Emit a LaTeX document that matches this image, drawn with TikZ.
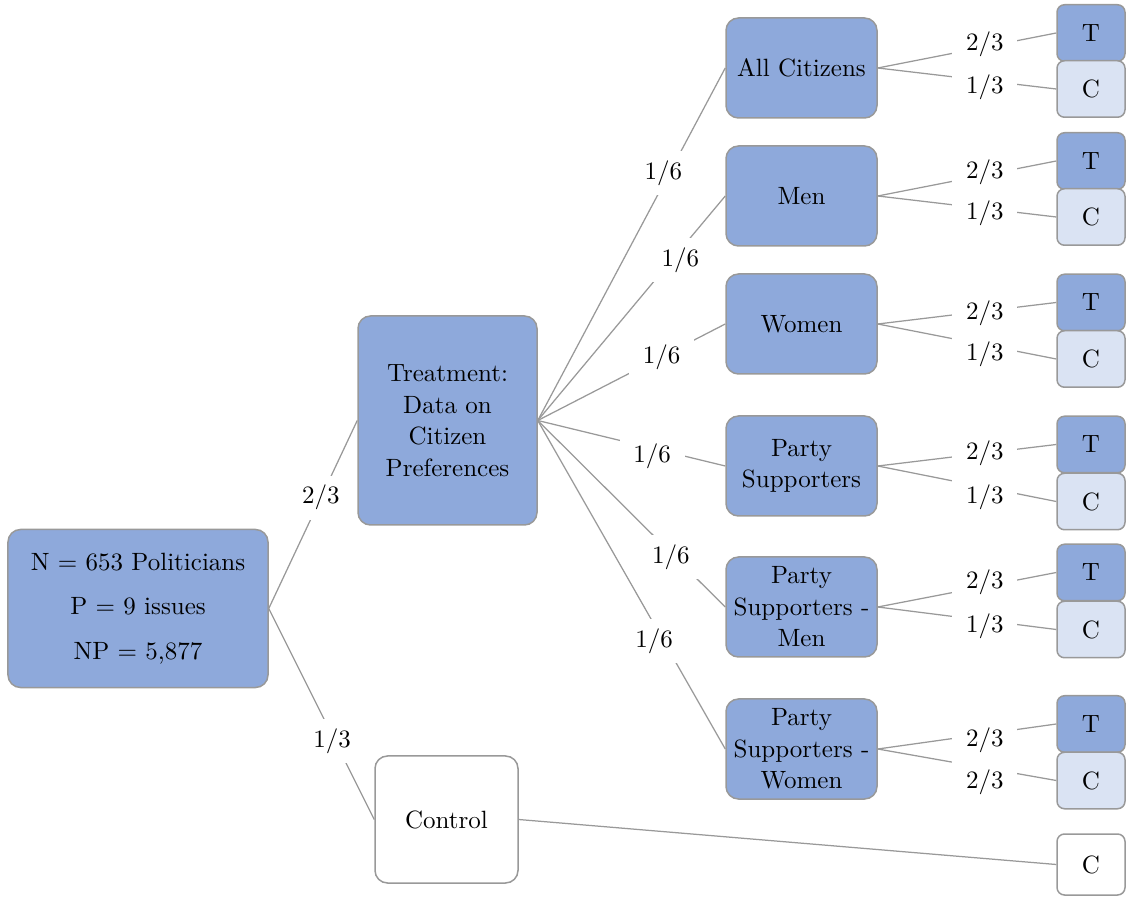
\documentclass[tikz,border=0pt]{standalone}
\usetikzlibrary{positioning}
\definecolor{treatblue}{HTML}{8EA9DB}
\definecolor{ctrlblue}{HTML}{DAE3F3}
\definecolor{edgegray}{HTML}{999999}
\tikzset{
  box/.style={draw=edgegray, line width=0.6pt, rounded corners=5pt, fill=treatblue, align=center, font=\fontsize{10}{12.6}\selectfont},
  groupbox/.style={box, minimum width=60.4pt, minimum height=40pt, inner sep=1pt},
  leaf/.style={box, rounded corners=3pt, minimum width=27.2pt, minimum height=22.6pt, inner sep=0pt},
  tleaf/.style={leaf},
  cleaf/.style={leaf, fill=ctrlblue},
  branch/.style={draw=edgegray, line width=0.5pt},
  prob/.style={fill=white, inner xsep=5.5pt, inner ysep=3.8pt, font=\fontsize{10}{12}\selectfont},
}
\begin{document}
\begin{tikzpicture}[x=0.4pt,y=-0.4pt]
\useasboundingbox (0,0) rectangle (1126,897);
% first split
\node[box, minimum width=104pt, minimum height=63.2pt] (pop) at (138,608.5) {N = 653 Politicians\\[5.2pt] P = 9 issues\\[5.2pt] NP = 5,877};
\node[box, minimum width=71.6pt, minimum height=83.6pt] (treat) at (447.5,420.5) {Treatment:\\Data on\\Citizen\\Preferences};
\node[box, fill=white, minimum width=57.2pt, minimum height=50.8pt] (ctrl) at (446.5,819.5) {Control};
\draw[branch] (pop.east) -- node[prob, pos=0.59] (ptreat) {2/3} (treat.west);
\draw[branch] (pop.east) -- node[prob, pos=0.6, yshift=-2.4pt] (pctrl) {1/3} (ctrl.west);
% groups
\node[groupbox] (all) at (801.5,68) {All Citizens};
\node[groupbox] (men) at (801.5,196) {Men};
\node[groupbox] (women) at (801.5,324) {Women};
\node[groupbox] (party) at (801.5,466) {Party\\Supporters};
\node[groupbox] (partymen) at (801.5,607) {Party\\Supporters -\\Men};
\node[groupbox] (partywomen) at (801.5,749) {Party\\Supporters -\\Women};
\draw[branch] (treat.east) -- node[prob, pos=0.67, yshift=4.4pt] (pall) {1/6} (all.west);
\draw[branch] (treat.east) -- node[prob, pos=0.76, yshift=-4pt] (pmen) {1/6} (men.west);
\draw[branch] (treat.east) -- node[prob, pos=0.66] (pwomen) {1/6} (women.west);
\draw[branch] (treat.east) -- node[prob, pos=0.61, yshift=-3.2pt] (pparty) {1/6} (party.west);
\draw[branch] (treat.east) -- node[prob, pos=0.71, yshift=-1.6pt] (ppartymen) {1/6} (partymen.west);
\draw[branch] (treat.east) -- node[prob, pos=0.62, yshift=-6.8pt] (ppartywomen) {1/6} (partywomen.west);
% final assignment
\node[tleaf] (allT) at (1091,33) {T};
\node[cleaf] (allC) at (1091,89) {C};
\node[tleaf] (menT) at (1091,161) {T};
\node[cleaf] (menC) at (1091,217) {C};
\node[tleaf] (womenT) at (1091,302.5) {T};
\node[cleaf] (womenC) at (1091,359) {C};
\node[tleaf] (partyT) at (1091,444.5) {T};
\node[cleaf] (partyC) at (1091,501.5) {C};
\node[tleaf] (partymenT) at (1091,572.5) {T};
\node[cleaf] (partymenC) at (1091,629.5) {C};
\node[tleaf] (partywomenT) at (1091,724) {T};
\node[cleaf] (partywomenC) at (1091,780.5) {C};
\node[leaf, fill=white, minimum height=24.4pt] (ctrlC) at (1091,864.5) {C};
\draw[branch] (all.east) -- node[prob, pos=0.6, yshift=1.2pt] (pallT) {2/3} (allT.west);
\draw[branch] (all.east) -- node[prob, pos=0.6, yshift=-2.6pt] (pallC) {1/3} (allC.west);
\draw[branch] (men.east) -- node[prob, pos=0.6, yshift=1.2pt] (pmenT) {2/3} (menT.west);
\draw[branch] (men.east) -- node[prob, pos=0.6, yshift=-1.8pt] (pmenC) {1/3} (menC.west);
\draw[branch] (women.east) -- node[prob, pos=0.6, yshift=-0.8pt] (pwomenT) {2/3} (womenT.west);
\draw[branch] (women.east) -- node[prob, pos=0.6, yshift=-3.6pt] (pwomenC) {1/3} (womenC.west);
\draw[branch] (party.east) -- node[prob, pos=0.6] (ppartyT) {2/3} (partyT.west);
\draw[branch] (party.east) -- node[prob, pos=0.6, yshift=-4pt] (ppartyC) {1/3} (partyC.west);
\draw[branch] (partymen.east) -- node[prob, pos=0.6, yshift=1.6pt] (ppartymenT) {2/3} (partymenT.west);
\draw[branch] (partymen.east) -- node[prob, pos=0.6, yshift=-2.2pt] (ppartymenC) {1/3} (partymenC.west);
\draw[branch] (partywomen.east) -- node[prob, pos=0.6, yshift=-2.4pt] (ppartywomenT) {2/3} (partywomenT.west);
\draw[branch] (partywomen.east) -- node[prob, pos=0.6, yshift=-5.6pt] (ppartywomenC) {2/3} (partywomenC.west);
\draw[branch] (ctrl.east) -- (ctrlC.west);
\end{tikzpicture}
\end{document}
